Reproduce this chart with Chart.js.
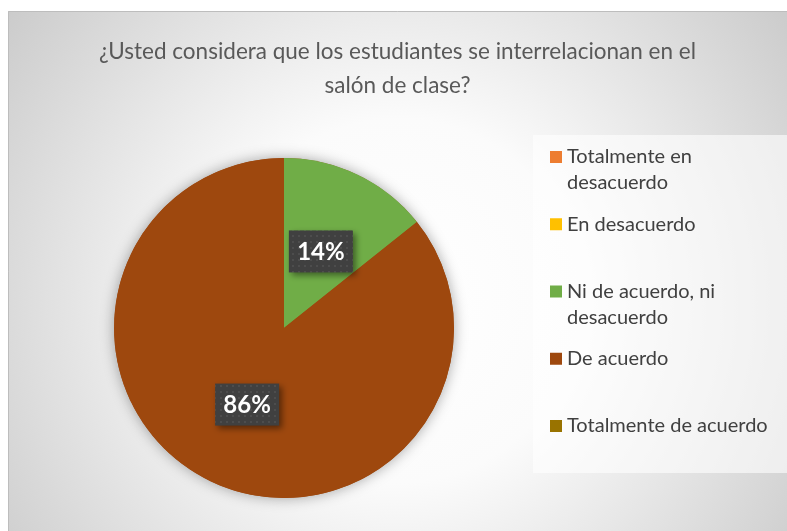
<!DOCTYPE html>
<html>
<head>
<meta charset="utf-8">
<script src="https://cdn.jsdelivr.net/npm/chart.js@4"></script>
<style>
  body { margin: 0; background: #ffffff; }
  #wrap { position: absolute; left: 8px; top: 11px; width: 779px; height: 520px; }
</style>
</head>
<body>
<div id="wrap"><canvas id="pie-chart" width="779" height="520"></canvas></div>
<script>
const titleLines = ['¿Usted considera que los estudiantes se interrelacionan en el', 'salón de clase?'];
const categories = ['Totalmente en desacuerdo', 'En desacuerdo', 'Ni de acuerdo, ni desacuerdo', 'De acuerdo', 'Totalmente de acuerdo'];
const responses = [0, 0, 1, 6, 0];
const sliceColors = ['#ED7D31', '#FFC000', '#70AD47', '#9E480E', '#997300'];

const FONT = 'Lato, "Open Sans", sans-serif';

// dotted fill used behind the data labels
function makeDotPattern(ctx) {
    const c = document.createElement('canvas');
    c.width = 6; c.height = 6;
    const p = c.getContext('2d');
    p.fillStyle = '#404040';
    p.fillRect(0, 0, 6, 6);
    p.fillStyle = '#4d4d4d';
    p.fillRect(2, 2, 2, 2);
    return ctx.createPattern(c, 'repeat');
}

function wrapText(ctx, text, maxWidth) {
    const words = text.split(' ');
    const lines = [];
    let line = '';
    words.forEach(w => {
        const test = line ? line + ' ' + w : w;
        if (ctx.measureText(test).width > maxWidth && line) {
            lines.push(line);
            line = w;
        } else {
            line = test;
        }
    });
    lines.push(line);
    return lines;
}

const backgroundPlugin = {
    id: 'background',
    beforeDraw(chart) {
        const ctx = chart.ctx;
        const w = chart.width, h = chart.height;
        ctx.save();
        const g = ctx.createRadialGradient(390, 290, 0, 390, 290, 520);
        g.addColorStop(0, '#ffffff');
        g.addColorStop(0.35, '#fbfbfb');
        g.addColorStop(1, '#c6c6c6');
        ctx.fillStyle = g;
        ctx.fillRect(0, 0, w, h);
        ctx.strokeStyle = '#bdbdbd';
        ctx.lineWidth = 1;
        ctx.beginPath();
        ctx.moveTo(0.5, h);
        ctx.lineTo(0.5, 0.5);
        ctx.lineTo(w, 0.5);
        ctx.stroke();

        // title
        ctx.fillStyle = '#595959';
        ctx.font = '22.5px ' + FONT;
        ctx.textAlign = 'center';
        ctx.textBaseline = 'middle';
        titleLines.forEach((t, i) => ctx.fillText(t, w / 2, 41 + i * 34));

        // legend panel
        ctx.fillStyle = 'rgba(255,255,255,0.6)';
        ctx.fillRect(525, 124, 254, 338);
        ctx.font = '20px ' + FONT;
        ctx.textAlign = 'left';
        categories.forEach((label, i) => {
            const y = 146 + i * 67.25;
            ctx.fillStyle = sliceColors[i];
            ctx.fillRect(542, y - 6, 12, 12);
            ctx.fillStyle = '#404040';
            wrapText(ctx, label, 208).forEach((line, j) => {
                ctx.fillText(line, 559, y + j * 26);
            });
        });
        ctx.restore();
    },
    beforeDatasetsDraw(chart) {
        // soft shadow under the pie
        const arc = chart.getDatasetMeta(0).data[0];
        if (!arc) return;
        const ctx = chart.ctx;
        ctx.save();
        ctx.shadowColor = 'rgba(0,0,0,0.35)';
        ctx.shadowBlur = 14;
        ctx.fillStyle = '#9E480E';
        ctx.beginPath();
        ctx.arc(arc.x, arc.y, arc.outerRadius, 0, Math.PI * 2);
        ctx.fill();
        ctx.restore();
    },
    afterDatasetsDraw(chart) {
        const ctx = chart.ctx;
        const meta = chart.getDatasetMeta(0);
        const total = responses.reduce((a, b) => a + b, 0);
        const pattern = makeDotPattern(ctx);
        ctx.save();
        ctx.font = 'bold 24px ' + FONT;
        ctx.textAlign = 'center';
        ctx.textBaseline = 'middle';
        meta.data.forEach((arc, i) => {
            if (!responses[i]) return;
            const pos = arc.tooltipPosition();
            const text = Math.round(responses[i] / total * 100) + '%';
            const bw = 64, bh = 42;
            ctx.save();
            ctx.shadowColor = 'rgba(0,0,0,0.45)';
            ctx.shadowBlur = 6;
            ctx.shadowOffsetX = 3;
            ctx.shadowOffsetY = 3;
            ctx.fillStyle = pattern;
            ctx.fillRect(pos.x - bw / 2, pos.y - bh / 2, bw, bh);
            ctx.restore();
            ctx.fillStyle = '#ffffff';
            ctx.fillText(text, pos.x, pos.y + 1);
        });
        ctx.restore();
    }
};

const ctx = document.getElementById('pie-chart').getContext('2d');
const myChart = new Chart(ctx, {
    type: 'pie',
    data: {
        labels: categories,
        datasets: [{
            data: responses,
            backgroundColor: sliceColors,
            borderWidth: 0
        }]
    },
    options: {
        responsive: false,
        animation: false,
        layout: {
            padding: { left: 106, right: 333, top: 147, bottom: 33 }
        },
        plugins: {
            legend: { display: false },
            title: { display: false },
            tooltip: { enabled: false }
        }
    },
    plugins: [backgroundPlugin]
});
</script>
</body>
</html>
